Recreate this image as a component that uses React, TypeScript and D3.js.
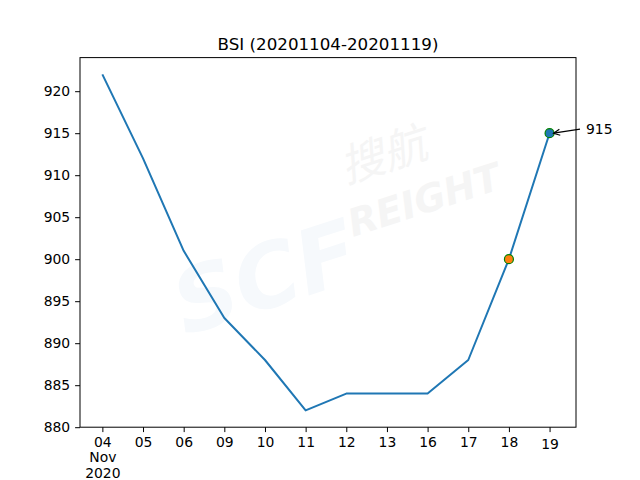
import { useEffect, useRef } from "react";
import * as d3 from "d3";

const dates = ["04", "05", "06", "09", "10", "11", "12", "13", "16", "17", "18", "19"];
const bsi = [922, 912, 901, 893, 888, 882, 884, 884, 884, 888, 900, 915];
const yTicks = [880, 885, 890, 895, 900, 905, 910, 915, 920];
const highlightIdx = [10, 11];
const highlightFill = ["#ff7f0e", "#1f77b4"];
const title = "BSI (20201104-20201119)";

export default function App() {
  const ref = useRef<SVGSVGElement>(null);

  useEffect(() => {
    if (!ref.current) return;
    const width = 640;
    const height = 480;
    const margin = { top: 57.6, right: 64, bottom: 52.8, left: 80 };
    const font = "DejaVu Sans, sans-serif";

    const svg = d3.select(ref.current);
    svg.selectAll("*").remove();

    const x = d3
      .scaleLinear()
      .domain([-0.55, dates.length - 1 + 0.65])
      .range([margin.left, width - margin.right]);
    const y = d3
      .scaleLinear()
      .domain([880, 924])
      .range([height - margin.bottom, margin.top]);

    svg.append("rect").attr("width", width).attr("height", height).attr("fill", "#fff");

    // faint watermark
    const wm = svg
      .append("g")
      .attr("transform", "translate(330,215) rotate(-18)")
      .attr("font-family", font)
      .attr("font-weight", "bold")
      .attr("font-style", "italic");
    wm.append("text")
      .attr("x", -175)
      .attr("y", 70)
      .attr("font-size", 88)
      .attr("fill", "#f6f9fc")
      .text("SCF");
    wm.append("text")
      .attr("x", 25)
      .attr("y", -25)
      .attr("font-size", 44)
      .attr("font-weight", "normal")
      .attr("font-family", "Noto Sans CJK SC")
      .attr("fill", "#f5f5f5")
      .text("搜航");
    wm.append("text")
      .attr("x", 15)
      .attr("y", 28)
      .attr("font-size", 38)
      .attr("fill", "#f5f5f5")
      .text("REIGHT");

    const line = d3
      .line<number>()
      .x((_, i) => x(i))
      .y((d) => y(d));

    svg
      .append("path")
      .datum(bsi)
      .attr("d", line)
      .attr("fill", "none")
      .attr("stroke", "#1f77b4")
      .attr("stroke-width", 2)
      .attr("stroke-linejoin", "round");

    highlightIdx.forEach((idx, k) => {
      svg
        .append("circle")
        .attr("cx", x(idx))
        .attr("cy", y(bsi[idx]))
        .attr("r", 4.5)
        .attr("fill", highlightFill[k])
        .attr("stroke", "green")
        .attr("stroke-width", 1.2);
    });

    // annotation for last point
    const last = bsi.length - 1;
    const px = x(last);
    const py = y(bsi[last]);
    const tx = 586;
    const ty = py - 4;
    svg
      .append("text")
      .attr("x", tx)
      .attr("y", ty + 5)
      .attr("font-family", font)
      .attr("font-size", 13.9)
      .attr("fill", "#000")
      .text(String(bsi[last]));
    const ax0 = tx - 6;
    const ay0 = ty;
    const ax1 = px + 4;
    const ay1 = py;
    svg
      .append("line")
      .attr("x1", ax0)
      .attr("y1", ay0)
      .attr("x2", ax1)
      .attr("y2", ay1)
      .attr("stroke", "#000")
      .attr("stroke-width", 1.2);
    const ang = Math.atan2(ay0 - ay1, ax0 - ax1);
    const hl = 7;
    const spread = 0.45;
    svg
      .append("path")
      .attr(
        "d",
        `M${ax1 + hl * Math.cos(ang + spread)},${ay1 + hl * Math.sin(ang + spread)}L${ax1},${ay1}L${
          ax1 + hl * Math.cos(ang - spread)
        },${ay1 + hl * Math.sin(ang - spread)}`
      )
      .attr("fill", "none")
      .attr("stroke", "#000")
      .attr("stroke-width", 1.2);

    // axes
    const xAxis = svg
      .append("g")
      .attr("transform", `translate(0,${height - margin.bottom})`)
      .call(
        d3
          .axisBottom(x)
          .tickValues(dates.map((_, i) => i))
          .tickFormat((d) => dates[d as number])
          .tickSize(4.9)
          .tickPadding(4.9)
      );
    xAxis.select(".domain").remove();
    xAxis
      .selectAll("text")
      .attr("font-family", font)
      .attr("font-size", 13.9)
      .attr("fill", "#000");
    // last label sits a little lower in the reference
    xAxis
      .selectAll<SVGTextElement, number>(".tick text")
      .filter((d) => d === dates.length - 1)
      .attr("y", 11.8);
    const firstTick = xAxis.select<SVGTextElement>(".tick text");
    firstTick.append("tspan").attr("x", 0).attr("dy", "1.12em").text("Nov");
    firstTick.append("tspan").attr("x", 0).attr("dy", "1.12em").text("2020");

    const yAxis = svg
      .append("g")
      .attr("transform", `translate(${margin.left},0)`)
      .call(d3.axisLeft(y).tickValues(yTicks).tickSize(4.9).tickPadding(4.9));
    yAxis.select(".domain").remove();
    yAxis
      .selectAll("text")
      .attr("font-family", font)
      .attr("font-size", 13.9)
      .attr("fill", "#000");

    svg
      .append("rect")
      .attr("x", margin.left)
      .attr("y", margin.top)
      .attr("width", width - margin.left - margin.right)
      .attr("height", height - margin.top - margin.bottom)
      .attr("fill", "none")
      .attr("stroke", "#000")
      .attr("stroke-width", 1);

    svg
      .append("text")
      .attr("x", (margin.left + width - margin.right) / 2)
      .attr("y", margin.top - 8)
      .attr("text-anchor", "middle")
      .attr("font-family", font)
      .attr("font-size", 16.7)
      .attr("fill", "#000")
      .text(title);
  }, []);

  return (
    <div style={{ position: "fixed", left: 0, top: 0 }}>
      <svg ref={ref} width={640} height={480} style={{ display: "block" }} />
    </div>
  );
}
